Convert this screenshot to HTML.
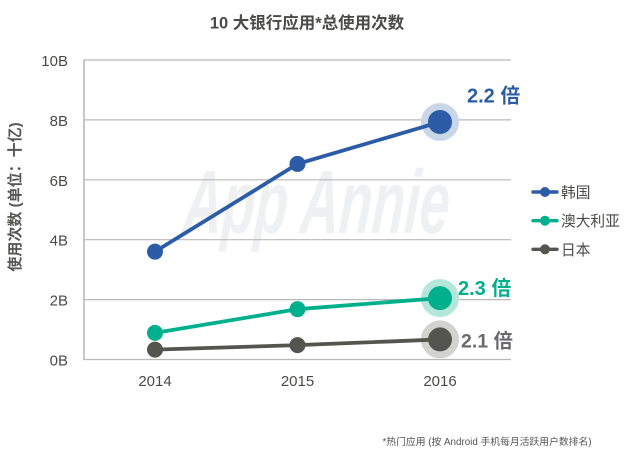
<!DOCTYPE html>
<html lang="zh">
<head>
<meta charset="utf-8">
<title>10 大银行应用总使用次数</title>
<style>
html,body{margin:0;padding:0;background:#fff;}
body{width:626px;height:455px;overflow:hidden;}
svg{display:block;}
text{font-family:"Liberation Sans","Noto Sans CJK SC",sans-serif;}
</style>
</head>
<body>
<svg id="chart" width="626" height="455" viewBox="0 0 626 455" xmlns="http://www.w3.org/2000/svg">
  <text transform="translate(182,233) skewX(-4)" x="0" y="0" font-size="90" font-weight="700" font-style="italic" fill="#eff0f2" textLength="266" lengthAdjust="spacingAndGlyphs">App Annie</text>
  <g id="grid"></g>
  <g id="series"></g>
  <g id="xlabels"></g>
  <g id="ylabels"></g>
  <text x="307" y="28.5" text-anchor="middle" font-size="16.5" font-weight="700" fill="#4a4a48">10 大银行应用*总使用次数</text>
  <text transform="translate(20,197) rotate(-90)" text-anchor="middle" font-size="15" font-weight="700" fill="#555553">使用次数 (单位：十亿)</text>
  <g id="legend"></g>
  <text x="382.5" y="445" font-size="9.8" fill="#555">*热门应用 (按 Android 手机每月活跃用户数排名)</text>
</svg>
<script>
const years = ['2014', '2015', '2016'];
const yTicks = [0, 2, 4, 6, 8, 10];
const koreaValues = [3.6, 6.53, 7.93];
const australiaValues = [0.89, 1.68, 2.05];
const japanValues = [0.33, 0.48, 0.67];
const seriesNames = ['韩国', '澳大利亚', '日本'];
const growthLabels = ['2.2 倍', '2.3 倍', '2.1 倍'];

const seriesValues = [koreaValues, australiaValues, japanValues];
const seriesColors = ['#2d5ca6', '#00b08d', '#55554f'];
const haloColors = ['#c9d6e8', '#b5e6da', '#d2d2d0'];
const growthColors = ['#2d5ca6', '#00b08d', '#6a6a6c'];
const growthDx = [27, 18, 21];
const growthDy = [-19.5, -3, 8];
const growthSizes = [20, 20, 19.5];
const legendY = [192, 220.7, 249.3];

const NS = 'http://www.w3.org/2000/svg';
function xPos(i) { return 155 + i * 142.5; }
function yPos(v) { return 359.5 - v * 29.95; }
function make(tag, attrs, parent) {
  const el = document.createElementNS(NS, tag);
  for (const k in attrs) el.setAttribute(k, attrs[k]);
  parent.appendChild(el);
  return el;
}

const grid = document.getElementById('grid');
const ylabels = document.getElementById('ylabels');
yTicks.forEach(function (t) {
  const line = make('line', { x1: 84, x2: 511, y1: yPos(t), y2: yPos(t), stroke: '#b9b9b7', 'stroke-width': 1.2 }, grid);
  
  
  const label = make('text', { x: 68, y: yPos(t) + 6, 'text-anchor': 'end', 'font-size': 15, fill: '#4a4a48' }, ylabels);
  
  
  label.textContent = t + 'B';
});
const axisLine = make('line', { x1: 84, x2: 84, y1: yPos(10) - 0.6, y2: yPos(0) + 0.6, stroke: '#b9b9b7', 'stroke-width': 1.6 }, grid);



const xlabels = document.getElementById('xlabels');
years.forEach(function (y, i) {
  const label = make('text', { x: xPos(i), y: 386, 'text-anchor': 'middle', 'font-size': 15, fill: '#4a4a48' }, xlabels);
  
  
  label.textContent = y;
});

const seriesGroup = document.getElementById('series');
seriesValues.forEach(function (vals, s) {
  const last = vals.length - 1;
  const halo = make('circle', { cx: xPos(last), cy: yPos(vals[last]), r: 19, fill: haloColors[s] }, seriesGroup);
  
  
  const line = make('polyline', {
    points: vals.map(function (v, i) { return xPos(i) + ',' + yPos(v); }).join(' '),
    fill: 'none', stroke: seriesColors[s], 'stroke-width': 3.8
  }, seriesGroup);
  
  
  vals.forEach(function (v, i) {
    const dot = make('circle', { cx: xPos(i), cy: yPos(v), r: i === last ? 12 : 8, fill: seriesColors[s] }, seriesGroup);
    
    
  });
  const growth = make('text', {
    x: xPos(last) + growthDx[s], y: yPos(vals[last]) + growthDy[s],
    'font-size': growthSizes[s], 'font-weight': 700, fill: growthColors[s]
  }, seriesGroup);
  
  
  growth.textContent = growthLabels[s];
});

const legend = document.getElementById('legend');
seriesNames.forEach(function (name, s) {
  const sw = make('line', { x1: 533, x2: 557, y1: legendY[s], y2: legendY[s], stroke: seriesColors[s], 'stroke-width': 3.4, 'stroke-linecap': 'round' }, legend);
  
  
  const dot = make('circle', { cx: 545, cy: legendY[s], r: 5, fill: seriesColors[s] }, legend);
  
  
  const label = make('text', { x: 561, y: legendY[s] + 5.5, 'font-size': 14.7, fill: '#4a4a48' }, legend);
  
  
  label.textContent = name;
});
</script>
</body>
</html>
